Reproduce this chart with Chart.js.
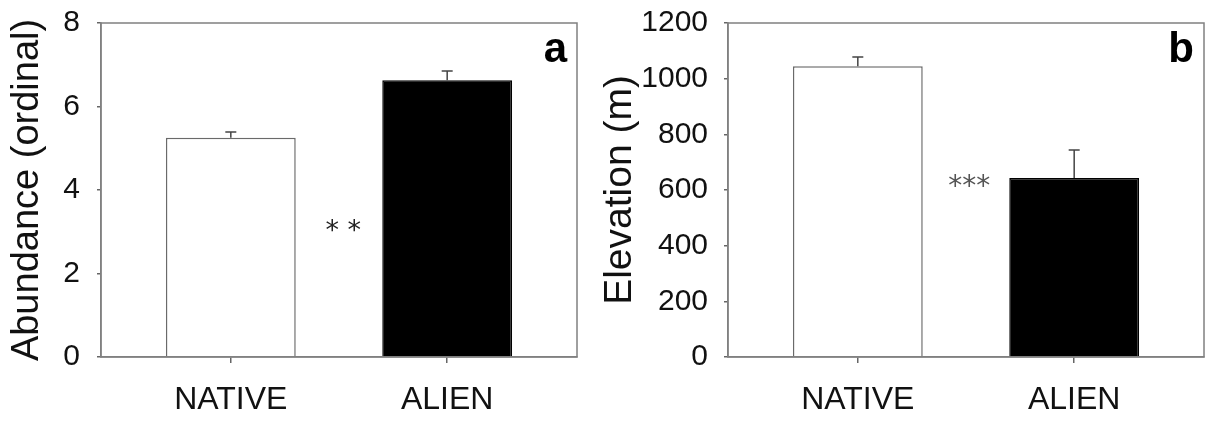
<!DOCTYPE html>
<html>
<head>
<meta charset="utf-8">
<script src="https://cdn.jsdelivr.net/npm/chart.js@4.4.1/dist/chart.umd.min.js"></script>
<style>
  html, body { margin: 0; padding: 0; background: #fff; }
  #wrap { position: relative; width: 1207px; height: 424px; overflow: hidden; }
  #panelA { position: absolute; left: 0; top: 0; }
  #panelB { position: absolute; left: 596px; top: 0; }
</style>
</head>
<body>
<div id="wrap">
  <canvas id="panelA" width="596" height="424"></canvas>
  <canvas id="panelB" width="611" height="424"></canvas>
</div>
<script>
// values
const categories = ['NATIVE', 'ALIEN'];
const categoryPos = [1, 2];

const abundanceMeans = [5.25, 6.63];
const abundanceErrors = [0.14, 0.22];
const abundanceTicks = { min: 0, max: 8, step: 2 };

const elevationMeans = [1045, 643];
const elevationErrors = [33, 101];
const elevationTicks = { min: 0, max: 1200, step: 200 };

const barFill = ['#ffffff', '#000000'];
const barEdge = ['#6a6a6a', '#000000'];

Chart.defaults.font.family = "'Liberation Sans', Arial, sans-serif";
Chart.defaults.color = '#111';

// frame, error bars, significance stars and panel letter
const extras = {
    id: 'extras',
    afterDatasetsDraw(chart, args, opts) {
        const ctx = chart.ctx;
        const area = chart.chartArea;
        const xs = chart.scales.x;
        const ys = chart.scales.y;

        ctx.save();
        ctx.strokeStyle = '#808080';
        ctx.lineWidth = 1.5;
        ctx.strokeRect(area.left, area.top, area.right - area.left, area.bottom - area.top);

        ctx.strokeStyle = '#444';
        ctx.lineWidth = 1.5;
        opts.means.forEach((m, i) => {
            const x = xs.getPixelForValue(categoryPos[i]);
            const y0 = ys.getPixelForValue(m);
            const y1 = ys.getPixelForValue(m + opts.errors[i]);
            ctx.beginPath();
            ctx.moveTo(x, y0);
            ctx.lineTo(x, y1);
            ctx.moveTo(x - 5.5, y1);
            ctx.lineTo(x + 5.5, y1);
            ctx.stroke();
        });

        ctx.fillStyle = opts.starColor;
        ctx.font = opts.starFont;
        ctx.textAlign = 'center';
        ctx.textBaseline = 'middle';
        ctx.fillText(opts.stars, xs.getPixelForValue(opts.starX), ys.getPixelForValue(opts.starY));

        ctx.fillStyle = '#000';
        ctx.font = "bold 42px 'Liberation Sans', Arial, sans-serif";
        ctx.textAlign = 'right';
        ctx.textBaseline = 'alphabetic';
        ctx.fillText(opts.letter, area.right - 10, area.top + 39);
        ctx.restore();
    }
};

function makePanel(id, p) {
    const ctx = document.getElementById(id).getContext('2d');
    return new Chart(ctx, {
        type: 'bar',
        data: {
            datasets: [{
                data: p.means.map((v, i) => ({ x: categoryPos[i], y: v })),
                backgroundColor: barFill,
                borderColor: barEdge,
                borderWidth: 1.5,
                barPercentage: 0.6,
                categoryPercentage: 1.0,
            }],
        },
        options: {
            responsive: false,
            animation: false,
            layout: { padding: { top: 23, right: p.padRight, left: 0, bottom: 0 } },
            plugins: {
                legend: { display: false },
                tooltip: { enabled: false },
                extras: p.extras,
            },
            scales: {
                x: {
                    type: 'linear',
                    min: 0.4,
                    max: 2.6,
                    offset: false,
                    afterBuildTicks: (s) => { s.ticks = categoryPos.map(v => ({ value: v })); },
                    afterFit: (s) => { s.height = 67; s.paddingLeft = 0; s.paddingRight = 0; },
                    ticks: {
                        callback: (v) => categories[categoryPos.indexOf(v)],
                        font: { size: 32 },
                        padding: 18,
                        color: '#111',
                        maxRotation: 0,
                    },
                    grid: { offset: false, drawOnChartArea: false, drawTicks: true, tickLength: 6, color: '#666', lineWidth: 1.5 },
                    border: { display: true, color: '#808080', width: 1.5 },
                },
                y: {
                    min: p.ticks.min,
                    max: p.ticks.max,
                    afterFit: (s) => { s.width = p.axisWidth; s.paddingTop = 0; s.paddingBottom = 0; },
                    ticks: {
                        stepSize: p.ticks.step,
                        callback: (v) => String(v),
                        font: { size: 30 },
                        padding: p.tickPad,
                        color: '#111',
                    },
                    grid: { drawOnChartArea: false, drawTicks: true, tickLength: 4, color: '#666', lineWidth: 1.5 },
                    border: { display: true, color: '#808080', width: 1.5 },
                    title: {
                        display: true,
                        text: p.title,
                        font: { size: p.titleSize },
                        padding: { top: p.titlePad, bottom: 0 },
                        color: '#111',
                    },
                },
            },
        },
        plugins: [extras],
    });
}

makePanel('panelA', {
    means: abundanceMeans,
    ticks: abundanceTicks,
    title: 'Abundance (ordinal)',
    titleSize: 38,
    titlePad: 5,
    axisWidth: 101,
    tickPad: 17,
    padRight: 19,
    extras: {
        means: abundanceMeans,
        errors: abundanceErrors,
        stars: '* *',
        starX: 1.52,
        starY: 3.0,
        starFont: "27px 'DejaVu Sans', sans-serif",
        starColor: '#222',
        letter: 'a',
    },
});

makePanel('panelB', {
    means: elevationMeans,
    ticks: elevationTicks,
    title: 'Elevation (m)',
    titleSize: 39,
    titlePad: 1,
    axisWidth: 132,
    tickPad: 16,
    padRight: 3,
    extras: {
        means: elevationMeans,
        errors: elevationErrors,
        stars: '***',
        starX: 1.515,
        starY: 607,
        starFont: "28px 'DejaVu Sans', sans-serif",
        starColor: '#555',
        letter: 'b',
    },
});
</script>
</body>
</html>
